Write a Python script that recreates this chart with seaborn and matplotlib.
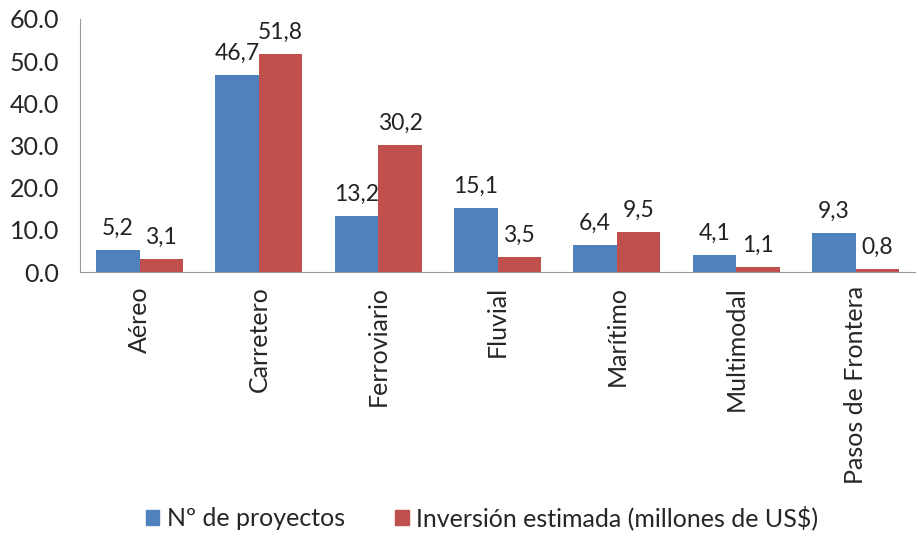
import matplotlib.pyplot as plt
import seaborn as sns
import pandas as pd

categorias = ['Aéreo', 'Carretero', 'Ferroviario', 'Fluvial', 'Marítimo', 'Multimodal', 'Pasos de Frontera']
proyectos = [5.2, 46.7, 13.2, 15.1, 6.4, 4.1, 9.3]
inversion = [3.1, 51.8, 30.2, 3.5, 9.5, 1.1, 0.8]
series = ['Nº de proyectos', 'Inversión estimada (millones de US$)']
colores = ['#4F81BD', '#C0504D']

sns.set_style('white')
plt.rcParams['font.family'] = ['Lato', 'DejaVu Sans']

df = pd.DataFrame({
    'categoria': categorias * 2,
    'valor': proyectos + inversion,
    'serie': [series[0]] * len(categorias) + [series[1]] * len(categorias),
})

fig = plt.figure(figsize=(9.18, 5.42), dpi=100)
ax = fig.add_axes([0.087, 0.498, 0.91, 0.467])

sns.barplot(data=df, x='categoria', y='valor', hue='serie', palette=colores,
            width=0.73, saturation=1, linewidth=0, ax=ax, legend=False)

for cont, vals in zip(ax.containers, [proyectos, inversion]):
    ax.bar_label(cont, labels=[f'{v:.1f}'.replace('.', ',') for v in vals],
                 padding=8, fontsize=16.5, color='#222222')

ax.set_ylim(0, 60)
ax.set_yticks(range(0, 61, 10))
ax.set_yticklabels([f'{v:.1f}' for v in range(0, 61, 10)], fontsize=18)
ax.set_xticks(range(len(categorias)))
ax.set_xticklabels(categorias, rotation=90, fontsize=18)
ax.tick_params(axis='y', length=0, pad=15)
ax.tick_params(axis='x', length=0, pad=10)
ax.set_xlabel('')
ax.set_ylabel('')
for s in ['top', 'right']:
    ax.spines[s].set_visible(False)
for s in ['left', 'bottom']:
    ax.spines[s].set_color('#999999')

handles = [plt.Rectangle((0, 0), 1, 1, color=c) for c in colores]
fig.legend(handles, series, loc='lower center', bbox_to_anchor=(0.525, -0.02), ncol=2,
           frameon=False, fontsize=18, handlelength=0.55, handleheight=0.55,
           handletextpad=0.3, columnspacing=2.0)

plt.savefig('out.png', dpi=100)
